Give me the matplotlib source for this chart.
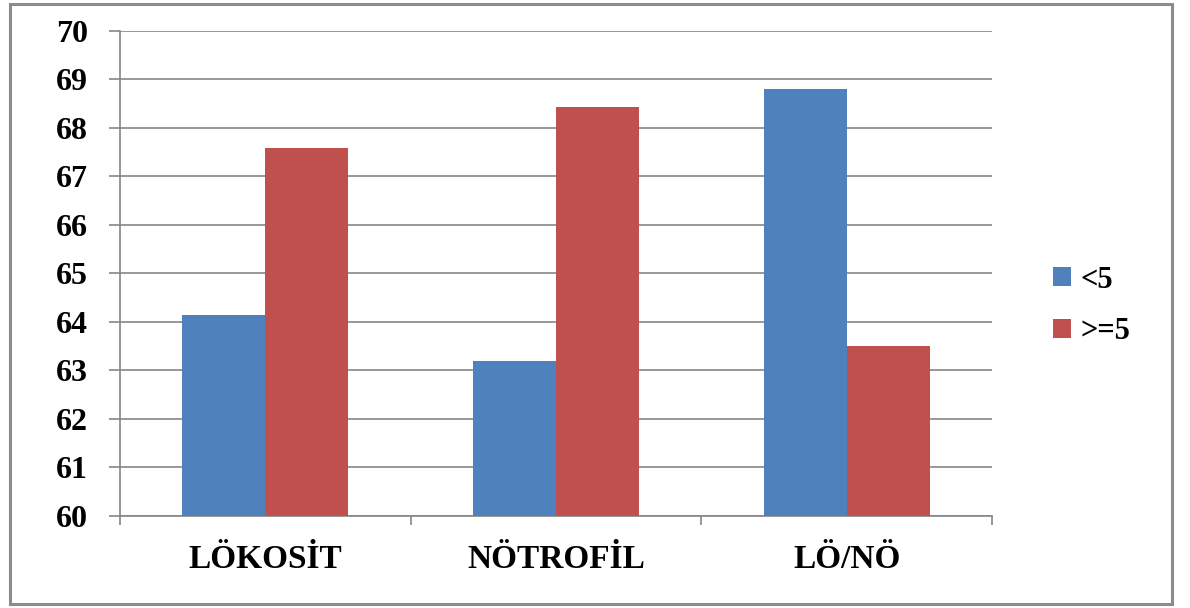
import matplotlib.pyplot as plt
from matplotlib.patches import Rectangle, Patch
import numpy as np

categories = ["LÖKOSİT", "NÖTROFİL", "LÖ/NÖ"]
series_names = ["<5", ">=5"]
values_lt5 = [64.15, 63.2, 68.8]
values_ge5 = [67.58, 68.42, 63.5]
y_ticks = list(range(60, 71))

blue = "#4F81BD"
red = "#C0504D"
grid_gray = "#868686"
font = "Liberation Serif"

fig = plt.figure(figsize=(11.9, 6.08), dpi=100)
ax = fig.add_axes([120 / 1190, 1 - 516 / 608, (992 - 120) / 1190, (516 - 30.7) / 608])

x = np.arange(len(categories))
width = 1 / 3.5
ax.bar(x - width / 2, values_lt5, width, color=blue, label=series_names[0], zorder=3)
ax.bar(x + width / 2, values_ge5, width, color=red, label=series_names[1], zorder=3)

ax.set_xlim(-0.5, len(categories) - 0.5)
ax.set_ylim(60, 70)
ax.set_yticks(y_ticks)
ax.set_yticklabels([str(t) for t in y_ticks], fontfamily=font, fontweight="bold", fontsize=23)
ax.yaxis.grid(True, color=grid_gray, linewidth=1.2, zorder=0)
ax.tick_params(axis="y", length=8, width=1.2, color=grid_gray, pad=15)

ax.set_xticks(x)
ax.set_xticklabels(categories, fontfamily=font, fontweight="bold", fontsize=24)
ax.tick_params(axis="x", which="major", length=0, pad=20)
ax.set_xticks(np.arange(-0.5, len(categories)), minor=True)
ax.tick_params(axis="x", which="minor", length=6.5, width=1.2, color=grid_gray, direction="out")

for side in ["top", "right"]:
    ax.spines[side].set_visible(False)
for side in ["left", "bottom"]:
    ax.spines[side].set_color(grid_gray)
    ax.spines[side].set_linewidth(1.2)

handles = [Patch(facecolor=blue), Patch(facecolor=red)]
fig.legend(handles, series_names, loc="center left",
           bbox_to_anchor=(1025 / 1190, 1 - 306 / 608), frameon=False,
           prop={"family": font, "weight": "bold", "size": 22},
           handlelength=0.6, handleheight=0.6, handletextpad=0.3, labelspacing=0.75)

border = Rectangle((10 / 1190, 4 / 608), (1172 - 10) / 1190, (606 - 6) / 608,
                   transform=fig.transFigure, fill=False, edgecolor="#8c8c8c", linewidth=2.2)
fig.patches.append(border)

fig.savefig("out.png", dpi=100, facecolor="white")
